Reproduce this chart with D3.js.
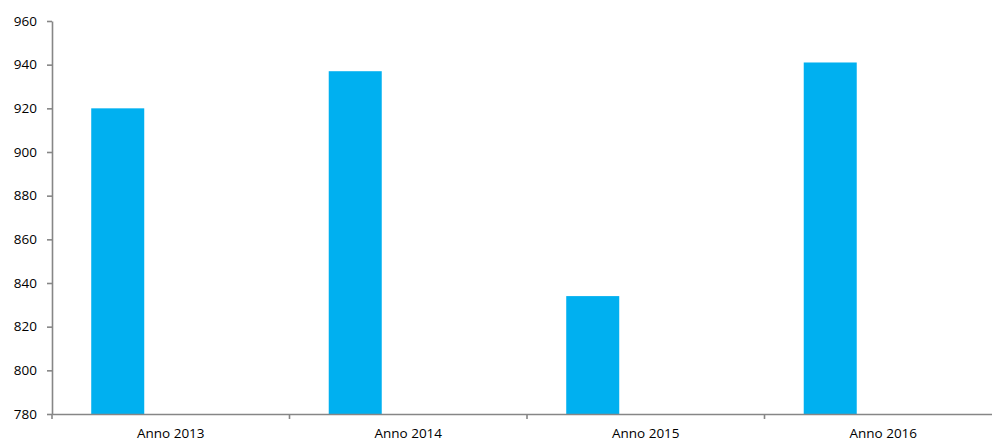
<!DOCTYPE html>
<html>
<head>
<meta charset="utf-8">
<script src="https://cdn.jsdelivr.net/npm/d3@7"></script>
<style>
	body { margin: 0; background: #fff; }
	svg { display: block; }
	svg text { font-family: "Open Sans", "Noto Sans", sans-serif; }
</style>
</head>
<body>
<svg id="chart" width="992" height="443"></svg>
<script>
// chart data
var categories = ["Anno 2013", "Anno 2014", "Anno 2015", "Anno 2016"];
var values = [920, 937, 834, 941];
var series = ["s1", "s2", "s3"]; // only the first one has values, the others are empty slots
var yTicks = [780, 800, 820, 840, 860, 880, 900, 920, 940, 960];

var svg = d3.select("#chart"),
	margin = {top: 21, left: 52, bottom: 29},
	width = 950,
	height = 443 - margin.top - margin.bottom;

var g = svg.append("g").attr("transform", "translate(" + margin.left + "," + margin.top + ")");

var x = d3.scaleBand()
	.domain(categories)
	.range([0, width])
	.padding(0);

var xs = d3.scaleBand()
	.domain(series)
	.range([0, x.bandwidth()])
	.paddingInner(0)
	.paddingOuter(0.74);

var y = d3.scaleLinear()
	.domain([780, 960])
	.range([height, 0]);

// bars
g.selectAll(".bar")
	.data(values)
	.enter().append("rect")
	.attr("class", "bar")
	.attr("x", (d, i) => x(categories[i]) + xs("s1"))
	.attr("width", xs.bandwidth())
	.attr("y", d => y(d))
	.attr("height", d => height - y(d))
	.attr("fill", "#00b0f0");

// y axis
var yAxis = g.append("g")
	.call(d3.axisLeft(y).tickValues(yTicks).tickSize(5).tickSizeOuter(0).tickPadding(10));

// x axis, ticks sit on the band edges
var xAxis = g.append("g")
	.attr("transform", "translate(0," + height + ")")
	.call(d3.axisBottom(x).tickSize(0).tickPadding(14));

xAxis.selectAll(".tick")
	.append("line")
	.attr("x1", -x.bandwidth() / 2).attr("x2", -x.bandwidth() / 2)
	.attr("y1", 0).attr("y2", 5);

xAxis.select(".tick:last-of-type")
	.append("line")
	.attr("x1", x.bandwidth() / 2).attr("x2", x.bandwidth() / 2)
	.attr("y1", 0).attr("y2", 5);

[yAxis, xAxis].forEach(function(a){
	a.attr("font-family", null);
	a.select(".domain").attr("stroke", "#868686").attr("stroke-width", 1.6);
	a.selectAll(".tick line").attr("stroke", "#868686").attr("stroke-width", 1.6);
	a.selectAll(".tick text").attr("fill", "#000").style("font-size", "13.5px");
});
</script>
</body>
</html>
